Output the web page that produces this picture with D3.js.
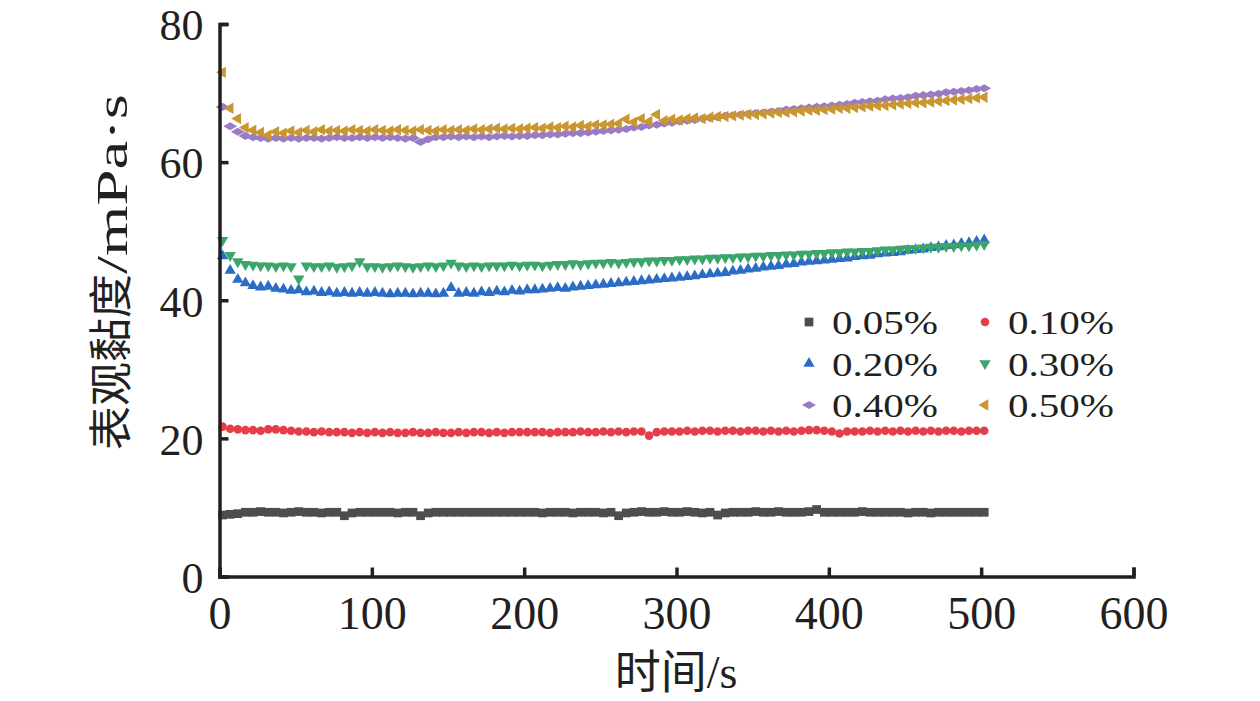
<!DOCTYPE html>
<html>
<head>
<meta charset="utf-8">
<script src="https://cdn.jsdelivr.net/npm/d3@7"></script>
<style>
  body { margin: 0; background: #fff; }
  svg { display: block; }
  text { font-family: "Liberation Serif", "Times New Roman", "Noto Sans CJK SC", serif; fill: #231f20; }
</style>
</head>
<body>
<svg width="1260" height="701"></svg>
<script>
// time (s)
var times = [
  2, 7, 12, 17, 22, 27, 32, 37, 42, 47,
  52, 57, 62, 67, 72, 77, 82, 87, 92, 97,
  102, 107, 112, 117, 122, 127, 132, 137, 142, 147,
  152, 157, 162, 167, 172, 177, 182, 187, 192, 197,
  202, 207, 212, 217, 222, 227, 232, 237, 242, 247,
  252, 257, 262, 267, 272, 277, 282, 287, 292, 297,
  302, 307, 312, 317, 322, 327, 332, 337, 342, 347,
  352, 357, 362, 367, 372, 377, 382, 387, 392, 397,
  402, 407, 412, 417, 422, 427, 432, 437, 442, 447,
  452, 457, 462, 467, 472, 477, 482, 487, 492, 497,
  502
];

var v005 = [
  8.9, 9.0, 9.1, 9.3, 9.3, 9.4, 9.3, 9.3, 9.2, 9.3,
  9.4, 9.3, 9.3, 9.2, 9.3, 9.3, 8.8, 9.2, 9.3, 9.3,
  9.3, 9.3, 9.3, 9.2, 9.3, 9.3, 8.8, 9.2, 9.3, 9.3,
  9.3, 9.3, 9.3, 9.3, 9.3, 9.3, 9.3, 9.3, 9.3, 9.3,
  9.3, 9.3, 9.2, 9.3, 9.3, 9.3, 9.2, 9.3, 9.3, 9.3,
  9.2, 9.3, 8.8, 9.2, 9.3, 9.4, 9.3, 9.3, 9.4, 9.3,
  9.3, 9.4, 9.3, 9.2, 9.3, 8.9, 9.2, 9.3, 9.3, 9.3,
  9.4, 9.3, 9.3, 9.4, 9.3, 9.3, 9.3, 9.4, 9.7, 9.3,
  9.3, 9.3, 9.3, 9.3, 9.4, 9.3, 9.3, 9.3, 9.3, 9.3,
  9.2, 9.3, 9.3, 9.2, 9.3, 9.3, 9.3, 9.3, 9.3, 9.3,
  9.3
];

var v010 = [
  21.7, 21.4, 21.3, 21.2, 21.2, 21.1, 21.3, 21.3, 21.2, 21.1,
  21.0, 21.0, 20.9, 21.0, 20.9, 20.9, 20.9, 20.8, 20.9, 20.8,
  20.9, 20.8, 20.9, 20.8, 20.8, 20.9, 20.8, 20.8, 20.9, 20.8,
  20.8, 20.9, 20.8, 20.9, 20.9, 20.8, 20.9, 20.8, 20.9, 20.9,
  20.9, 20.9, 20.9, 20.8, 20.9, 20.9, 20.9, 21.0, 20.9, 20.9,
  21.0, 20.9, 21.0, 20.9, 21.0, 21.0, 20.4, 20.9, 21.0, 21.0,
  21.0, 21.1, 21.0, 21.1, 21.1, 21.0, 21.1, 21.1, 21.0, 21.1,
  21.1, 21.0, 21.1, 21.0, 21.1, 21.0, 21.1, 21.2, 21.2, 21.1,
  21.0, 20.7, 21.0, 21.0, 21.0, 21.1, 21.0, 21.1, 21.0, 21.1,
  21.0, 21.1, 21.0, 21.1, 21.0, 21.1, 21.1, 21.0, 21.1, 21.1,
  21.1
];

var v020 = [
  46.4, 44.3, 43.0, 42.5, 42.1, 41.9, 42.0, 41.7, 41.6, 41.4,
  41.5, 41.2, 41.3, 41.1, 41.2, 41.0, 41.1, 41.0, 41.1, 41.0,
  41.1, 41.0, 40.9, 41.0, 41.0, 40.9, 41.0, 41.0, 40.9, 41.0,
  41.8, 41.0, 41.1, 41.0, 41.2, 41.1, 41.3, 41.2, 41.4, 41.3,
  41.5, 41.5, 41.6, 41.7, 41.8, 41.7, 41.9, 42.0, 42.1, 42.2,
  42.3, 42.4, 42.5, 42.6, 42.7, 42.8, 42.9, 43.0, 43.1, 43.2,
  43.3, 43.4, 43.5, 43.7, 43.8, 43.9, 44.0, 44.2, 44.3, 44.5,
  44.6, 44.8, 44.9, 45.0, 45.2, 45.3, 45.5, 45.6, 45.7, 45.8,
  45.9, 46.0, 46.1, 46.3, 46.4, 46.5, 46.7, 46.8, 46.9, 47.0,
  47.2, 47.3, 47.4, 47.6, 47.7, 47.9, 48.0, 48.2, 48.3, 48.5,
  48.7
];

var v030 = [
  48.7, 46.5, 45.6, 45.2, 45.1, 45.0, 45.0, 44.9, 45.0, 44.9,
  43.1, 45.0, 44.9, 44.9, 45.0, 44.8, 44.9, 45.0, 45.6, 44.9,
  44.9, 44.8, 44.9, 45.0, 44.9, 44.8, 44.9, 45.0, 44.9, 45.0,
  45.4, 45.0, 44.9, 45.0, 44.9, 45.0, 45.0, 45.0, 45.1, 45.0,
  45.1, 45.1, 45.0, 45.1, 45.2, 45.2, 45.3, 45.2, 45.3, 45.4,
  45.4, 45.5, 45.4, 45.5, 45.6, 45.6, 45.7, 45.7, 45.8, 45.8,
  45.9, 45.9, 46.0, 46.0, 46.1, 46.1, 46.2, 46.2, 46.3, 46.3,
  46.4, 46.4, 46.5, 46.5, 46.6, 46.6, 46.7, 46.7, 46.8, 46.8,
  46.9, 46.9, 47.0, 47.0, 47.1, 47.1, 47.2, 47.3, 47.3, 47.4,
  47.5, 47.5, 47.6, 47.7, 47.7, 47.8, 47.8, 47.9, 47.9, 48.0,
  48.1
];

var v040 = [
  68.0, 65.2, 64.4, 63.8, 63.6, 63.5, 63.4, 63.5, 63.4, 63.5,
  63.4, 63.5, 63.5, 63.4, 63.5, 63.6, 63.5, 63.5, 63.6, 63.5,
  63.6, 63.5, 63.6, 63.5, 63.4, 63.5, 62.9, 63.3, 63.6, 63.6,
  63.7, 63.6, 63.7, 63.6, 63.7, 63.6, 63.7, 63.8, 63.7, 63.8,
  63.8, 63.9, 63.9, 64.0, 64.0, 64.1, 64.2, 64.2, 64.3, 64.4,
  64.5, 64.6, 64.7, 64.8, 65.0, 65.1, 65.3, 65.4, 65.6, 65.7,
  65.9, 66.0, 66.1, 66.3, 66.4, 66.5, 66.7, 66.8, 66.9, 67.0,
  67.1, 67.2, 67.3, 67.4, 67.6, 67.7, 67.8, 67.9, 68.0, 68.1,
  68.2, 68.3, 68.4, 68.6, 68.7, 68.8, 68.9, 69.1, 69.2, 69.3,
  69.4, 69.6, 69.7, 69.8, 69.9, 70.1, 70.2, 70.3, 70.4, 70.6,
  70.7
];

var v050 = [
  73.0, 67.8, 66.3, 65.0, 64.6, 64.3, 63.9, 64.4, 64.2, 64.5,
  64.3, 64.6, 64.4, 64.7, 64.5, 64.6, 64.5, 64.7, 64.6, 64.5,
  64.7, 64.6, 64.5, 64.7, 64.6, 64.5, 64.7, 64.6, 64.5, 64.7,
  64.6, 64.7, 64.6, 64.8, 64.7, 64.8, 64.9, 64.8, 64.9, 64.8,
  64.9, 65.0, 64.9, 65.1, 65.0, 65.2, 65.1, 65.3, 65.2, 65.4,
  65.4, 65.5, 65.6, 66.2, 65.8, 66.3, 65.9, 66.9, 66.0, 66.2,
  66.1, 66.3, 66.4, 66.3, 66.5, 66.6, 66.6, 66.7, 66.8, 66.9,
  66.9, 67.0, 67.1, 67.2, 67.2, 67.3, 67.4, 67.5, 67.5, 67.6,
  67.7, 67.8, 67.8, 67.9, 68.0, 68.1, 68.2, 68.2, 68.3, 68.4,
  68.5, 68.6, 68.6, 68.7, 68.8, 68.9, 69.0, 69.1, 69.2, 69.3,
  69.4
];

var labels = ["0.05%", "0.10%", "0.20%", "0.30%", "0.40%", "0.50%"];
var xTicks = [0, 100, 200, 300, 400, 500, 600];
var yTicks = [0, 20, 40, 60, 80];

var seriesValues = [v005, v010, v020, v030, v040, v050];
var colors = ["#4d4d4d", "#e53e48", "#2b6cc6", "#3ba56b", "#9a7bc6", "#c99632"];

// marker shapes: square, circle, triangle up, triangle down, wide diamond, triangle left
var shapes = [
  {type: d3.symbolSquare, size: 76, rot: 0},
  {type: d3.symbolCircle, size: 58, rot: 0},
  {type: d3.symbolTriangle, size: 56, rot: 0},
  {type: d3.symbolTriangle, size: 56, rot: 180},
  {type: d3.symbolDiamond, size: 56, rot: 90},
  {type: d3.symbolTriangle, size: 56, rot: -90}
];

var svg = d3.select("svg");

var xScale = d3.scaleLinear().domain([0, 600]).range([219.5, 1133.5]);
var yScale = d3.scaleLinear().domain([0, 80]).range([576.5, 24]);

// points
seriesValues.forEach(function (vals, s) {
  var sym = d3.symbol().type(shapes[s].type).size(shapes[s].size);
  svg.append("g")
    .selectAll("path")
    .data(vals)
    .enter()
    .append("path")
    .attr("d", sym)
    .attr("fill", colors[s])
    .attr("transform", function (d, i) {
      return "translate(" + xScale(times[i]) + "," + yScale(d) + ") rotate(" + shapes[s].rot + ")";
    });
});

// axes
var axisBottom = d3.axisBottom(xScale).tickValues(xTicks).tickSize(-9).tickPadding(20);
var axisLeft = d3.axisLeft(yScale).tickValues(yTicks).tickSize(-9).tickPadding(16);

var gx = svg.append("g")
  .attr("transform", "translate(0," + yScale(0) + ")")
  .call(axisBottom);

var gy = svg.append("g")
  .attr("transform", "translate(" + xScale(0) + ",0)")
  .call(axisLeft);

[gx, gy].forEach(function (g) {
  g.selectAll("path, line").attr("stroke", "#231f20").attr("stroke-width", 3.5);
  g.selectAll("text")
    .attr("fill", "#231f20")
    .style("font-family", "'Liberation Serif', 'Times New Roman', serif")
    .style("font-size", "46px");
});
// keep the top label inside the picture
gy.selectAll("text").style("font-size", "44px").attr("dy", "0.36em");

// legend
var legend = svg.append("g");
labels.forEach(function (lab, i) {
  var col = i % 2, row = Math.floor(i / 2);
  var mx = col === 0 ? 809 : 985;
  var my = 322 + row * 41.5;
  var sym = d3.symbol().type(shapes[i].type).size(shapes[i].size);
  legend.append("path")
    .attr("d", sym)
    .attr("fill", colors[i])
    .attr("transform", "translate(" + mx + "," + my + ") rotate(" + shapes[i].rot + ")");
  legend.append("text")
    .attr("x", mx + 23)
    .attr("y", my + 12)
    .attr("textLength", 106)
    .attr("lengthAdjust", "spacingAndGlyphs")
    .style("font-size", "34px")
    .text(lab);
});

// text label for the x axis
svg.append("text")
  .attr("x", 676)
  .attr("y", 688)
  .style("text-anchor", "middle")
  .style("font-size", "46px")
  .text("时间/s");

// text label for the y axis
var yTitle = svg.append("text")
  .attr("transform", "translate(127,450) rotate(-90)")
  .style("text-anchor", "start")
  .style("font-size", "44px");
yTitle.append("tspan").text("表观黏度");
yTitle.append("tspan")
  .attr("textLength", 180)
  .attr("lengthAdjust", "spacingAndGlyphs")
  .text("/mPa·s");
</script>
</body>
</html>
